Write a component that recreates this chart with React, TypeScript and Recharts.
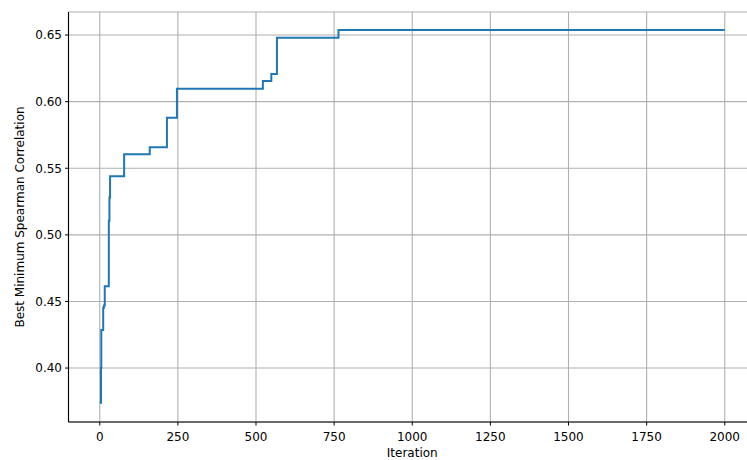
import React from "react";
import {
  LineChart,
  Line,
  XAxis,
  YAxis,
  CartesianGrid,
} from "recharts";

const iterations = [0, 2, 4, 5, 11, 13, 16, 20, 29, 31, 33, 35, 78, 160, 215, 247, 522, 549, 567, 764, 2000];
const bestValues = [0.374, 0.374, 0.400, 0.4285, 0.445, 0.447, 0.4615, 0.4615, 0.5105, 0.528, 0.544, 0.544, 0.5605, 0.5657, 0.588, 0.6097, 0.6155, 0.6207, 0.648, 0.6537, 0.6537];
const xTicks = [0, 250, 500, 750, 1000, 1250, 1500, 1750, 2000];
const yTicks = [0.4, 0.45, 0.5, 0.55, 0.6, 0.65];

const data = iterations.map((it, i) => ({ iteration: it, value: bestValues[i] }));

const font = "DejaVu Sans, sans-serif";
const tickStyle = { fontSize: 12, fill: "#000", fontFamily: font };

export default function App() {
  return (
    <div style={{ position: "absolute", left: 0, top: 0, width: 747, height: 460, overflow: "hidden", background: "#fff" }}>
      <LineChart
        width={760}
        height={460}
        data={data}
        margin={{ top: 12, right: 4, left: 0, bottom: 0 }}
      >
        <CartesianGrid stroke="#b0b0b0" strokeWidth={1.1} />
        <XAxis
          dataKey="iteration"
          type="number"
          domain={[-100, 2100]}
          ticks={xTicks}
          allowDataOverflow
          height={38}
          tickSize={3.5}
          tickMargin={7}
          stroke="#000"
          tick={tickStyle}
          tickLine={{ stroke: "#000" }}
          axisLine={{ stroke: "#000", strokeWidth: 1.1 }}
          label={{ value: "Iteration", position: "insideBottom", offset: 3, style: { fontSize: 12, fill: "#000", fontFamily: font } }}
        />
        <XAxis
          xAxisId="top"
          orientation="top"
          dataKey="iteration"
          type="number"
          domain={[-100, 2100]}
          height={0}
          tick={false}
          tickLine={false}
          axisLine={{ stroke: "#000", strokeWidth: 1.1 }}
        />
        <YAxis
          type="number"
          domain={[0.3595, 0.6673]}
          ticks={yTicks}
          allowDataOverflow
          width={68.5}
          tickSize={3.5}
          tickMargin={3}
          stroke="#000"
          tick={tickStyle}
          tickLine={{ stroke: "#000" }}
          axisLine={{ stroke: "#000", strokeWidth: 1.1 }}
          tickFormatter={(v: number) => v.toFixed(2)}
          label={{
            value: "Best Minimum Spearman Correlation",
            angle: -90,
            position: "insideLeft",
            offset: 20,
            style: { textAnchor: "middle", fontSize: 12, fill: "#000", fontFamily: font },
          }}
        />
        <Line
          type="stepAfter"
          dataKey="value"
          stroke="#1f77b4"
          strokeWidth={2}
          dot={false}
          isAnimationActive={false}
        />
      </LineChart>
    </div>
  );
}
